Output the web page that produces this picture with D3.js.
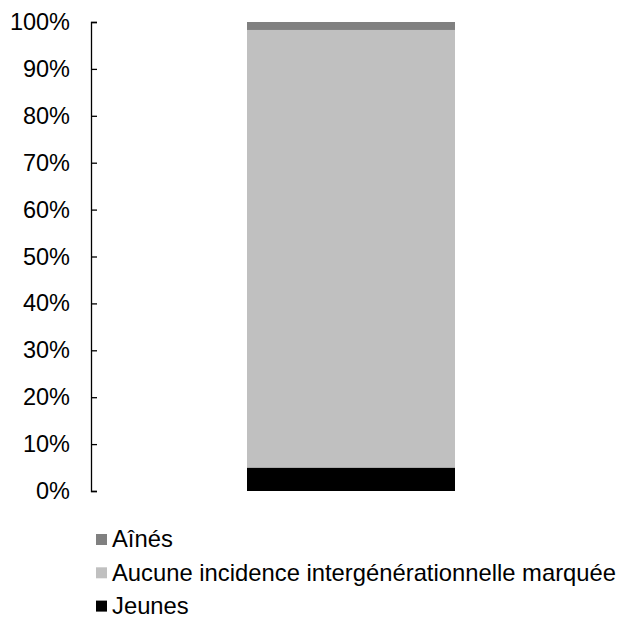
<!DOCTYPE html>
<html>
<head>
<meta charset="utf-8">
<script src="https://cdn.jsdelivr.net/npm/d3@7"></script>
<style>
  html, body { margin: 0; padding: 0; background: #fff; }
  svg { display: block; font-family: "Liberation Sans", Arial, sans-serif; }
</style>
</head>
<body>
<svg id="chart" width="621" height="619"></svg>
<script>
// Stacked shares (percent), bottom to top
const categories = ["Total"];
const seriesNames = ["Jeunes", "Aucune incidence intergénérationnelle marquée", "Aînés"];
const jeunes = [5.0];
const aucune = [93.3];
const aines = [1.7];
const seriesColors = ["#000000", "#c0c0c0", "#808080"];
const tickValues = [0, 10, 20, 30, 40, 50, 60, 70, 80, 90, 100];
const legendOrder = ["Aînés", "Aucune incidence intergénérationnelle marquée", "Jeunes"];

const svg = d3.select("#chart");
const margin = { left: 91, top: 22, right: 10, bottom: 128 };
const width = 621 - margin.left - margin.right;
const height = 619 - margin.top - margin.bottom;

const rows = categories.map((c, i) => ({
  cat: c,
  "Jeunes": jeunes[i],
  "Aucune incidence intergénérationnelle marquée": aucune[i],
  "Aînés": aines[i]
}));

const stack = d3.stack().keys(seriesNames)(rows);

const x = d3.scaleBand().domain(categories).range([0, width]).paddingInner(0).paddingOuter(0.75);
const y = d3.scaleLinear().domain([0, 100]).range([height, 0]);
const color = d3.scaleOrdinal().domain(seriesNames).range(seriesColors);

const g = svg.append("g").attr("transform", `translate(${margin.left},${margin.top})`);

// Stacked bar segments
g.selectAll("g.layer")
  .data(stack)
  .join("g")
  .attr("class", "layer")
  .attr("fill", d => color(d.key))
  .selectAll("rect")
  .data(d => d)
  .join("rect")
  .attr("x", d => x(d.data.cat))
  .attr("width", x.bandwidth())
  .attr("y", d => y(d[1]))
  .attr("height", d => y(d[0]) - y(d[1]));

// Y axis with ticks pointing into the plot
const axis = g.append("g")
  .call(d3.axisRight(y).tickValues(tickValues).tickFormat(d => d + "%").tickSize(6).tickSizeOuter(6));
axis.select(".domain").attr("stroke", "#000").attr("stroke-width", 1.3);
axis.selectAll(".tick line").attr("stroke", "#000").attr("stroke-width", 1.3);
axis.selectAll(".tick text")
  .attr("x", -21)
  .attr("text-anchor", "end")
  .attr("fill", "#000")
  .style("font-size", "23.5px")
  .style("font-family", "'Liberation Sans', Arial, sans-serif");

// Legend
const legend = svg.append("g").attr("transform", "translate(96,539)");
const items = legend.selectAll("g")
  .data(legendOrder)
  .join("g")
  .attr("transform", (d, i) => `translate(0,${i * 33.3})`);
items.append("rect")
  .attr("x", 0).attr("y", -5)
  .attr("width", 11).attr("height", 11)
  .attr("fill", d => color(d));
items.append("text")
  .attr("x", 16)
  .attr("y", 0)
  .attr("dy", "0.35em")
  .attr("fill", "#000")
  .style("font-size", "23.8px")
  .text(d => d);
</script>
</body>
</html>
